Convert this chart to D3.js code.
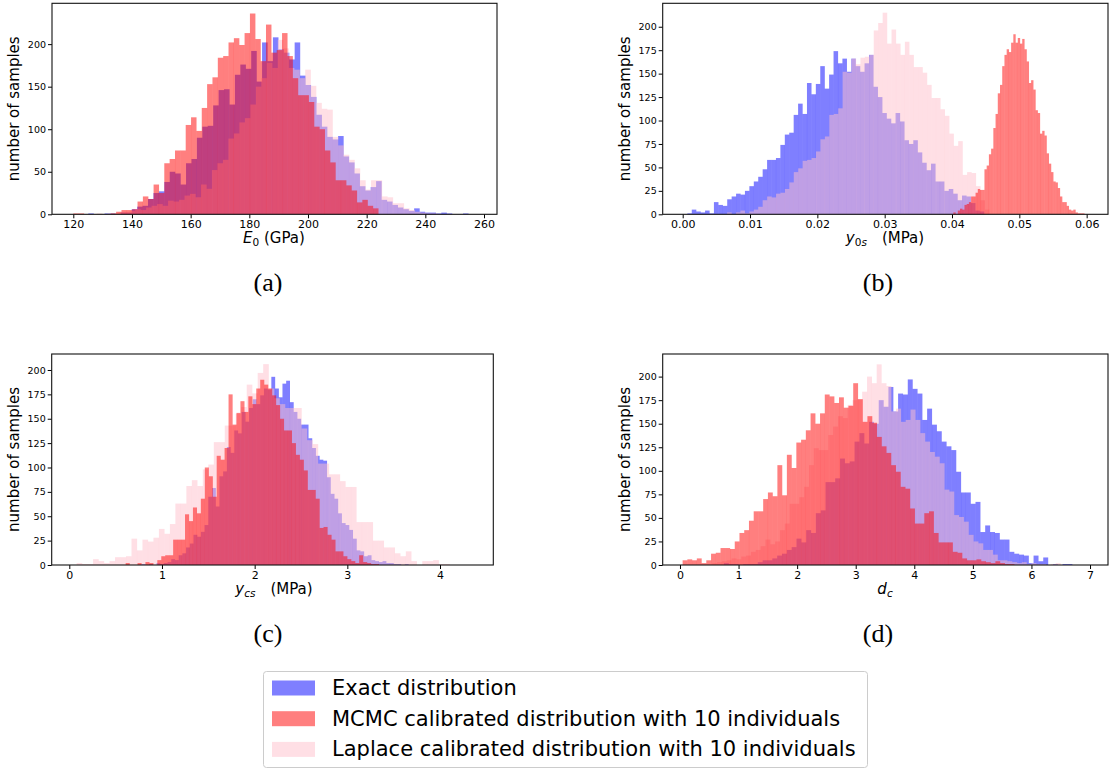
<!DOCTYPE html>
<html>
<head>
<meta charset="utf-8">
<script src="https://cdn.jsdelivr.net/npm/d3@7"></script>
<style>
  body { margin: 0; background: #fff; }
  svg { display: block; }
</style>
</head>
<body>
<div id="main"></div>
<script>
// histogram counts, with the [min, max] of each bin range

// (a) E0 (GPa)
const e0Exact = [1,0,0,1,1,0,2,2,6,9,10,18,25,27,38,50,48,35,60,65,90,103,104,128,146,147,129,164,176,171,192,156,202,180,208,194,190,182,202,163,
  152,138,117,103,91,88,92,68,61,48,33,28,32,39,17,15,11,8,6,4,7,3,2,2,1,2,1,0,0,1];
const e0ExactRange = [125.1, 254.7];
const e0Mcmc = [1,1,0,0,0,0,0,1,3,5,5,6,15,21,18,35,25,60,65,75,75,105,114,98,125,153,161,184,186,202,
  207,199,213,236,206,180,223,190,193,213,186,160,140,140,132,103,100,75,61,40,40,34,28,14,17,10,7];
const e0McmcRange = [120.0, 224.0];
const e0Laplace = [1,0,1,1,2,3,4,6,5,8,10,12,10,16,15,17,22,24,20,35,30,52,60,64,89,95,108,113,129,150,
  160,178,172,205,195,172,170,160,170,151,131,124,123,91,81,70,64,54,40,29,40,40,21,20,13,13,7,5,3,2,1,1];
const e0LaplaceRange = [128.0, 243.94];

// (b) y0s (MPa)
const y0Exact = [1,5,3,2,4,1,13,10,9,16,19,22,21,25,30,35,40,48,58,58,60,74,85,87,106,118,107,140,128,139,
  158,134,149,174,161,166,152,166,158,152,161,170,136,125,108,102,97,108,99,79,75,79,66,55,47,54,35,35,25,27,
  22,15,20,19,12,4,3];
const y0ExactRange = [0.00069, 0.04478];
const y0Mcmc = [2,0,4,6,5,10,11,13,19,19,23,27,26,26,48,52,64,70,92,107,129,138,158,170,176,173,183,192,183,188,
  182,187,176,163,140,143,133,111,108,86,89,84,65,54,45,35,34,28,19,13,13,9,5,4,5,2,1,1,1,0];
const y0McmcRange = [0.0402, 0.0600];
const y0Laplace = [2,0,2,4,1,3,5,8,15,19,18,22,23,27,34,45,49,57,58,60,67,80,83,106,107,113,152,151,166,160,
  167,168,170,196,204,215,182,197,182,170,184,170,157,157,151,138,124,124,112,105,86,73,78,42,45,44,30,15,5];
const y0LaplaceRange = [0.0066, 0.04554];

// (c) ycs (MPa)
const ycExact = [1,0,1,0,2,1,2,3,6,5,10,12,18,22,31,29,34,41,70,79,60,91,96,121,115,138,135,157,147,161,
  170,165,174,181,180,193,181,172,186,189,167,157,150,144,144,130,120,112,108,107,90,73,68,53,43,41,36,27,15,14,
  9,10,5,4,3,4,2,2,1,1,0,1];
const ycExactRange = [0.78, 3.66];
const ycMcmc = [2,0,0,2,0,3,2,0,5,9,10,10,26,26,26,52,45,59,53,68,100,91,70,112,108,120,175,144,156,168,
  157,173,165,181,190,185,181,174,164,150,138,138,125,113,108,97,77,77,68,38,39,31,26,14,14,9,6,4,2,10,3,2,1,1];
const ycMcmcRange = [0.608, 3.341];
const ycLaplace = [2,1,1,6,4,2,4,8,8,9,27,15,26,24,28,37,32,42,63,63,81,87,81,98,103,126,126,143,143,155,
  162,185,176,197,206,181,171,165,161,161,161,140,128,124,104,104,93,93,86,80,80,44,44,44,25,25,18,18,12,9,
  14,4,0,4,4,5,1,1];
const ycLaplaceRange = [0.079, 4.105];

// (d) dc
const dcExact = [2,1,1,0,1,1,1,3,5,5,7,10,12,16,19,28,24,37,34,55,58,88,88,92,113,108,110,131,140,129,
  152,150,175,168,189,163,182,181,197,187,182,154,166,149,142,131,126,122,99,77,77,65,67,35,42,35,34,27,27,14,
  12,11,10,2,10,4,8,0,1,0,1,1];
const dcExactRange = [0.75, 6.697];
const dcMcmc = [5,6,5,7,2,5,12,13,18,18,17,25,34,37,47,57,57,70,77,73,106,74,117,103,130,133,143,161,150,161,
  181,179,172,178,167,169,193,176,152,158,151,136,126,119,106,99,83,81,60,44,44,55,57,34,24,24,24,14,13,7,
  5,5,6,4,3,2,4,2,1,1];
const dcMcmcRange = [0.045, 5.708];
const dcLaplace = [2,3,4,5,7,6,9,10,14,16,20,27,22,25,37,44,65,65,72,83,106,124,122,122,138,147,158,156,170,175,
  176,184,200,193,213,193,190,163,166,152,154,165,154,140,131,120,115,108,80,78,53,51,46,32,25,23,16,16,11,5,
  5,4,3,2,3,1,2,1,1,0,1,2];
const dcLaplaceRange = [0.55, 6.497];

const seriesNames = ["Exact distribution",
  "MCMC calibrated distribution with 10 individuals",
  "Laplace calibrated distribution with 10 individuals"];
const seriesColors = ["blue", "red", "pink"];

const W = 1110, H = 769;
const svg = d3.select("#main").append("svg")
  .attr("width", W).attr("height", H)
  .style("font-family", "'DejaVu Sans', sans-serif");

const panels = [
  {box: [52, 3.3, 497, 214.3], xdom: [112.74, 264.43], ydom: [0, 248],
   xticks: d3.range(120, 261, 20), yticks: [0, 50, 100, 150, 200], fmt: d3.format("d"),
   exact: [e0Exact, e0ExactRange], mcmc: [e0Mcmc, e0McmcRange], laplace: [e0Laplace, e0LaplaceRange],
   label: [["E", "it"], ["0", "sub"], [" (GPa)", "back"]], labelX: 274, caption: "(a)", capX: 268},
  {box: [662.7, 3.3, 1108, 214.3], xdom: [-0.00297, 0.06317], ydom: [0, 225],
   xticks: d3.range(0, 0.061, 0.01), yticks: d3.range(0, 201, 25), fmt: d3.format(".2f"),
   exact: [y0Exact, y0ExactRange], mcmc: [y0Mcmc, y0McmcRange], laplace: [y0Laplace, y0LaplaceRange],
   label: [["y", "it"], ["0", "sub"], ["s", "subit"], ["\u2002\u2002(MPa)", "back"]], labelX: 885, caption: "(b)", capX: 878},
  {box: [51.7, 354, 493.3, 565], xdom: [-0.19, 4.575], ydom: [0, 216.4],
   xticks: d3.range(0, 5, 1), yticks: d3.range(0, 201, 25), fmt: d3.format("d"),
   exact: [ycExact, ycExactRange], mcmc: [ycMcmc, ycMcmcRange], laplace: [ycLaplace, ycLaplaceRange],
   label: [["y", "it"], ["cs", "sub1it"], ["\u2002\u2002(MPa)", "back"]], labelX: 274, caption: "(c)", capX: 268},
  {box: [662.7, 354, 1108, 565], xdom: [-0.295, 7.307], ydom: [0, 224],
   xticks: d3.range(0, 8, 1), yticks: d3.range(0, 201, 25), fmt: d3.format("d"),
   exact: [dcExact, dcExactRange], mcmc: [dcMcmc, dcMcmcRange], laplace: [dcLaplace, dcLaplaceRange],
   label: [["d", "it"], ["c", "sub1it"]], labelX: 885, caption: "(d)", capX: 878}
];

function drawHist(g, x, y, counts, range, color) {
  const [lo, hi] = range;
  const w = (hi - lo) / counts.length;
  g.append("g")
    .attr("fill", color)
    .attr("fill-opacity", 0.5)
    .selectAll("rect")
    .data(counts)
    .join("rect")
    .attr("x", (d, i) => x(lo + i * w))
    .attr("width", (d, i) => x(lo + (i + 1) * w) - x(lo + i * w) + 0.12)
    .attr("y", d => y(d))
    .attr("height", d => y(0) - y(d));
}

panels.forEach(p => {
  const [x0, y0, x1, y1] = p.box;
  const x = d3.scaleLinear().domain(p.xdom).range([x0, x1]);
  const y = d3.scaleLinear().domain(p.ydom).range([y1, y0]);
  const g = svg.append("g");

  // drawing order of the figure: exact, laplace, then mcmc on top
  drawHist(g, x, y, p.exact[0], p.exact[1], seriesColors[0]);
  drawHist(g, x, y, p.laplace[0], p.laplace[1], seriesColors[2]);
  drawHist(g, x, y, p.mcmc[0], p.mcmc[1], seriesColors[1]);

  const xAxis = g.append("g")
    .attr("transform", `translate(0,${y1})`)
    .call(d3.axisBottom(x).tickValues(p.xticks).tickFormat(p.fmt).tickSize(4).tickPadding(2));
  xAxis.select(".domain").remove();
  xAxis.selectAll("text").attr("font-size", 11).attr("fill", "#000")
    .attr("font-family", "'DejaVu Sans', sans-serif");

  const yAxis = g.append("g")
    .attr("transform", `translate(${x0},0)`)
    .call(d3.axisLeft(y).tickValues(p.yticks).tickFormat(d3.format("d")).tickSize(4).tickPadding(2));
  yAxis.select(".domain").remove();
  yAxis.selectAll("text").attr("font-size", 9.5).attr("fill", "#000")
    .attr("font-family", "'DejaVu Sans', sans-serif");

  g.append("rect")
    .attr("x", x0).attr("y", y0)
    .attr("width", x1 - x0).attr("height", y1 - y0)
    .attr("fill", "none").attr("stroke", "#111").attr("stroke-width", 1.1);

  g.append("text")
    .attr("transform", `translate(${x0 - 33},${(y0 + y1) / 2}) rotate(-90)`)
    .attr("text-anchor", "middle")
    .attr("font-size", 15)
    .text("number of samples");

  const lab = g.append("text")
    .attr("x", p.labelX).attr("y", y1 + 29)
    .attr("text-anchor", "middle")
    .attr("font-size", 15);
  p.label.forEach(([t, kind]) => {
    const ts = lab.append("tspan").text(t);
    if (kind === "it") ts.attr("font-style", "italic");
    if (kind === "sub") ts.attr("font-size", 10.5).attr("dy", 3);
    if (kind === "subit") ts.attr("font-size", 10.5).attr("font-style", "italic");
    if (kind === "sub1it") ts.attr("font-size", 10.5).attr("font-style", "italic").attr("dy", 3);
    if (kind === "back") ts.attr("dy", -3);
  });

  svg.append("text")
    .attr("x", p.capX).attr("y", y1 + 77)
    .attr("text-anchor", "middle")
    .attr("font-family", "'Liberation Serif', 'Times New Roman', serif")
    .attr("font-size", 26)
    .text(p.caption);
});

// legend
const leg = svg.append("g");
leg.append("rect")
  .attr("x", 263.5).attr("y", 671.5).attr("width", 604).attr("height", 96)
  .attr("rx", 3).attr("fill", "#fff").attr("stroke", "#ccc");
const legRows = [0, 1, 2];
legRows.forEach(i => {
  const cy = 688 + i * 30.7;
  leg.append("rect")
    .attr("x", 272).attr("y", cy - 7.5).attr("width", 43).attr("height", 15)
    .attr("fill", seriesColors[i]).attr("fill-opacity", 0.5);
  leg.append("text")
    .attr("x", 332).attr("y", cy)
    .attr("dominant-baseline", "central")
    .attr("font-size", 21)
    .text(seriesNames[i]);
});
</script>
</body>
</html>
